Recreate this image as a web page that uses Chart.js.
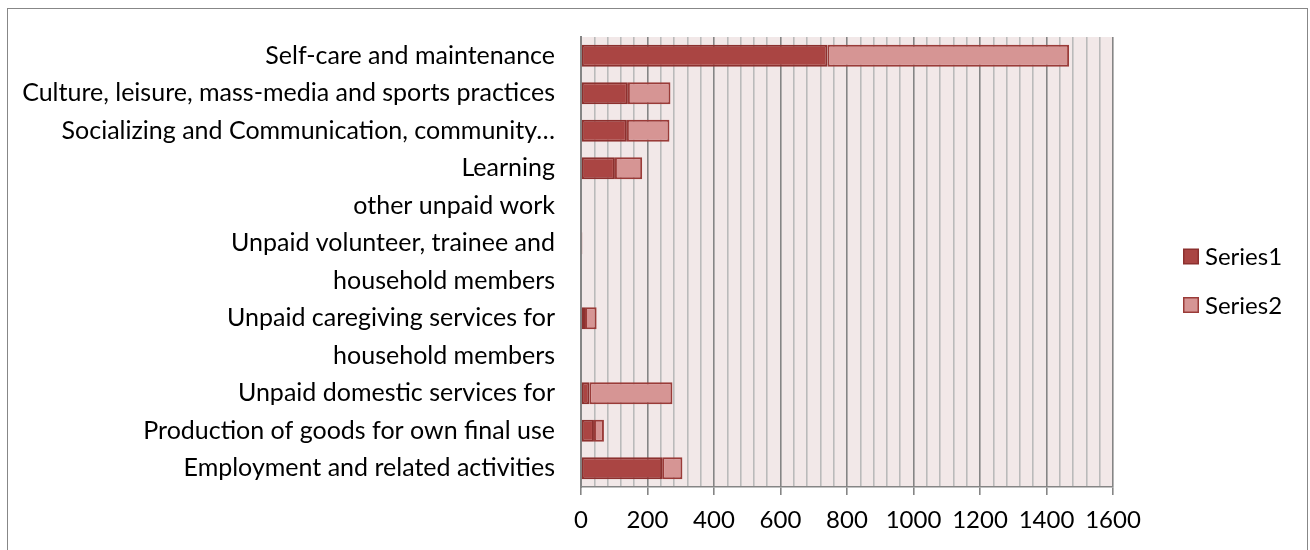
<!DOCTYPE html>
<html>
<head>
<meta charset="utf-8">
<script src="https://cdn.jsdelivr.net/npm/chart.js@4.4.1/dist/chart.umd.min.js"></script>
<style>
  html, body { margin: 0; padding: 0; background: #fff; }
  #frame { position: absolute; left: 7px; top: 8px; width: 1301px; height: 560px; border: 1px solid #878787; box-sizing: border-box; }
  #chart { position: absolute; left: 0; top: 0; }
</style>
</head>
<body>
<div id="frame"></div>
<canvas id="chart" width="1310" height="550"></canvas>
<script>
const categories = [
  "Self-care and maintenance",
  "Culture, leisure, mass-media and sports practices",
  "Socializing and Communication, community…",
  "Learning",
  "other unpaid work",
  "Unpaid volunteer, trainee and",
  "household members",
  "Unpaid caregiving services for",
  "household members",
  "Unpaid domestic services for",
  "Production of goods for own final use",
  "Employment and related activities",
];

const series1 = [741, 141, 138, 102, 0, 3, 0, 12, 0, 25, 39, 244];
const series2 = [727, 128, 128, 82, 0, 1, 0, 35, 0, 250, 30, 61];
const seriesNames = ["Series1", "Series2"];

const xMin = 0;
const xMax = 1600;
const minorStep = 40;
const majorStep = 200;

const fontFamily = "Lato, 'Open Sans', sans-serif";

const colors = {
  s1Fill: "#aa4543",
  s1Border: "#8c302e",
  s2Fill: "#d69594",
  s2Border: "#9a3b38",
  plotBg: "#f2e8e8",
  major: "#858585",
  minor: "#bababa",
};

// light pink plot area behind the grid
const plotBackground = {
  id: "plotBackground",
  beforeDraw(chart) {
    const { ctx, chartArea: a } = chart;
    ctx.save();
    ctx.fillStyle = colors.plotBg;
    ctx.fillRect(a.left, a.top, a.right - a.left, a.bottom - a.top);
    ctx.restore();
  },
};

// Excel-style legend at the right
const sideLegend = {
  id: "sideLegend",
  afterDraw(chart) {
    const { ctx } = chart;
    const x = 1183;
    const ys = [256.5, 305];
    ctx.save();
    ctx.font = `24px ${fontFamily}`;
    ctx.textBaseline = "middle";
    chart.data.datasets.forEach((ds, i) => {
      const y = ys[i];
      ctx.fillStyle = ds.borderColor;
      ctx.fillRect(x, y - 8, 16, 16);
      ctx.fillStyle = ds.backgroundColor;
      ctx.fillRect(x + 1.5, y - 6.5, 13, 13);
      ctx.fillStyle = "#000";
      ctx.fillText(ds.label, x + 22, y + 1);
    });
    ctx.restore();
  },
};

new Chart(document.getElementById("chart"), {
  type: "bar",
  data: {
    labels: categories,
    datasets: [
      {
        label: seriesNames[0],
        data: series1,
        backgroundColor: colors.s1Fill,
        borderColor: colors.s1Border,
        borderWidth: 2,
        borderSkipped: false,
        categoryPercentage: 0.59,
        barPercentage: 1,
      },
      {
        label: seriesNames[1],
        data: series2,
        backgroundColor: colors.s2Fill,
        borderColor: colors.s2Border,
        borderWidth: 2,
        borderSkipped: false,
        categoryPercentage: 0.59,
        barPercentage: 1,
      },
    ],
  },
  options: {
    indexAxis: "y",
    responsive: false,
    animation: false,
    layout: { padding: { left: 0, top: 37, right: 197, bottom: 0 } },
    plugins: {
      legend: { display: false },
      tooltip: { enabled: false },
    },
    scales: {
      x: {
        stacked: true,
        min: xMin,
        max: xMax,
        afterFit(scale) {
          scale.height = 63;
          scale.paddingLeft = 0;
          scale.paddingRight = 0;
        },
        afterBuildTicks(scale) {
          const ticks = [];
          for (let v = xMin; v <= xMax; v += minorStep) ticks.push({ value: v });
          scale.ticks = ticks;
        },
        ticks: {
          autoSkip: false,
          maxRotation: 0,
          padding: 11,
          color: "#000",
          font: { family: fontFamily, size: 24 },
          callback: (v) => (v % majorStep === 0 ? String(v) : ""),
        },
        grid: {
          color: (c) => (c.tick && c.tick.value % majorStep === 0 ? colors.major : colors.minor),
          tickColor: (c) => (c.tick && c.tick.value % majorStep === 0 ? colors.major : "rgba(0,0,0,0)"),
          lineWidth: 1.6,
          tickLength: 8,
        },
        border: { color: colors.major, width: 1.6 },
      },
      y: {
        stacked: true,
        afterFit(scale) {
          scale.width = 581;
          scale.paddingTop = 0;
          scale.paddingBottom = 0;
        },
        ticks: {
          padding: 26,
          color: "#000",
          autoSkip: false,
          font: { family: fontFamily, size: 25 },
        },
        grid: { display: false, drawTicks: false },
        border: { color: colors.major, width: 2 },
      },
    },
  },
  plugins: [plotBackground, sideLegend],
});
</script>
</body>
</html>
